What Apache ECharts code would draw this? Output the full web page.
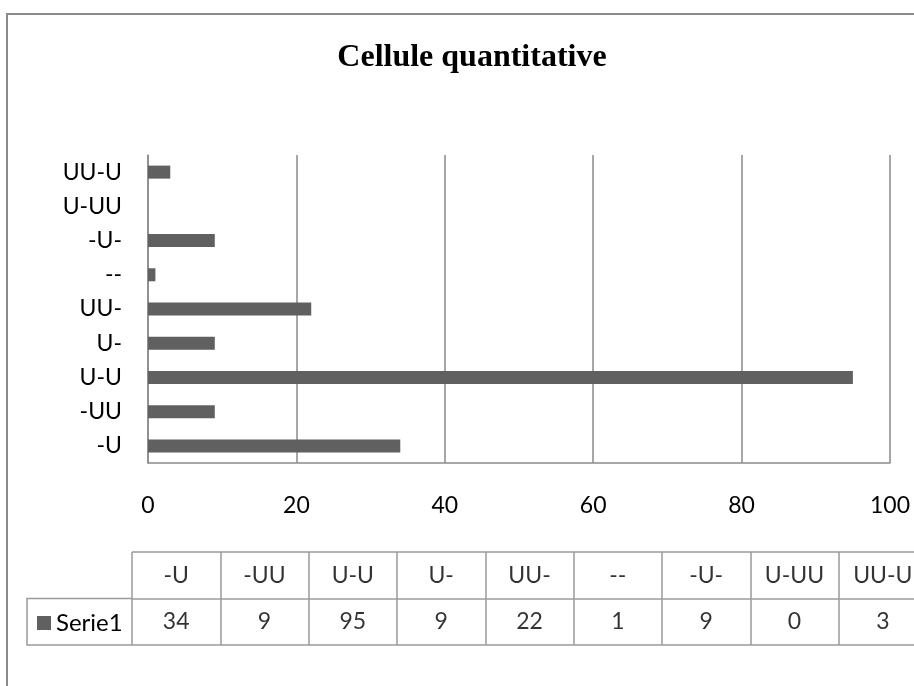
<!DOCTYPE html>
<html>
<head>
<meta charset="utf-8">
<title>Cellule quantitative</title>
<script src="https://cdn.jsdelivr.net/npm/echarts@6/dist/echarts.min.js"></script>
<style>
  html, body { margin: 0; padding: 0; background: #ffffff; }
  #chart { width: 914px; height: 686px; }
</style>
</head>
<body>
<div id="chart"></div>
<script>
// Chart content
const chartTitle = 'Cellule quantitative';
const seriesName = 'Serie1';
const categories = ['-U', '-UU', 'U-U', 'U-', 'UU-', '--', '-U-', 'U-UU', 'UU-U'];
const values = [34, 9, 95, 9, 22, 1, 9, 0, 3];
const valueTicks = { min: 0, max: 100, interval: 20 };
const tableRows = ['valeurs', 'catégories']; // bottom row, top row of the data table

const FONT = 'Lato, "Open Sans", sans-serif';
const LINE = '#8a8a8a';
const TABLE_LINE = '#9a9a9a';
const BAR = '#606060';

const chart = echarts.init(document.getElementById('chart'));

chart.setOption({
  animation: false,
  backgroundColor: '#ffffff',
  title: {
    text: chartTitle,
    left: 467,
    top: 35,
    textAlign: 'center',
    textStyle: {
      fontFamily: '"Liberation Serif", "Times New Roman", serif',
      fontWeight: 'bold',
      fontSize: 32,
      lineHeight: 36,
      color: '#000000'
    }
  },
  legend: {
    data: [{ name: seriesName, icon: 'rect' }],
    left: 37,
    top: 611,
    padding: 0,
    itemWidth: 14,
    itemHeight: 14,
    selectedMode: false,
    textStyle: { fontFamily: FONT, fontSize: 24, lineHeight: 23, color: '#000000' }
  },
  grid: [
    // bar plot
    { left: 148, right: 24, top: 155, bottom: 223, outerBoundsMode: 'none', containLabel: false },
    // data table under the plot (runs past the right edge)
    { left: 132, width: 795, top: 552, height: 93, outerBoundsMode: 'none', containLabel: false }
  ],
  xAxis: [
    {
      gridIndex: 0,
      type: 'value',
      min: valueTicks.min,
      max: valueTicks.max,
      interval: valueTicks.interval,
      axisLine: { show: true, lineStyle: { color: LINE, width: 1.5 } },
      axisTick: { show: false },
      splitLine: { show: true, lineStyle: { color: LINE, width: 1.5 } },
      axisLabel: { margin: 31, fontFamily: FONT, fontSize: 23, color: '#000000' }
    },
    {
      gridIndex: 1,
      type: 'category',
      data: categories,
      boundaryGap: true,
      axisLine: { show: false },
      axisTick: { show: false },
      axisLabel: { show: false },
      splitLine: { show: true, lineStyle: { color: TABLE_LINE, width: 1.5 } }
    }
  ],
  yAxis: [
    {
      gridIndex: 0,
      type: 'category',
      data: categories,
      boundaryGap: true,
      axisLine: { show: true, lineStyle: { color: LINE, width: 1.5 } },
      axisTick: { show: false },
      splitLine: { show: false },
      axisLabel: { margin: 26, fontFamily: FONT, fontSize: 23, color: '#000000' }
    },
    {
      gridIndex: 1,
      type: 'category',
      data: tableRows,
      boundaryGap: true,
      axisLine: { show: false },
      axisTick: { show: false },
      axisLabel: { show: false },
      splitLine: { show: true, lineStyle: { color: TABLE_LINE, width: 1.5 } }
    }
  ],
  graphic: [
    // outer chart frame
    {
      type: 'rect',
      shape: { x: 7, y: 14, width: 1200, height: 1000 },
      style: { fill: 'none', stroke: '#8a8a8a', lineWidth: 2 },
      silent: true
    },
    // legend cell of the data table
    {
      type: 'polyline',
      shape: { points: [[132, 598.5], [27, 598.5], [27, 645], [132, 645]] },
      style: { fill: 'none', stroke: TABLE_LINE, lineWidth: 1.5 },
      silent: true
    }
  ],
  series: [
    {
      name: seriesName,
      type: 'bar',
      xAxisIndex: 0,
      yAxisIndex: 0,
      data: values,
      barWidth: 13,
      itemStyle: { color: BAR }
    },
    {
      name: 'table-head',
      type: 'scatter',
      xAxisIndex: 1,
      yAxisIndex: 1,
      symbolSize: 1,
      itemStyle: { color: 'transparent' },
      data: categories.map(c => [c, tableRows[1]]),
      label: {
        show: true,
        position: 'inside',
        formatter: p => p.value[0],
        fontFamily: FONT,
        fontSize: 23,
        color: '#000000'
      },
      silent: true
    },
    {
      name: 'table-values',
      type: 'scatter',
      xAxisIndex: 1,
      yAxisIndex: 1,
      symbolSize: 1,
      itemStyle: { color: 'transparent' },
      data: values.map((v, i) => [categories[i], tableRows[0], v]),
      label: {
        show: true,
        position: 'inside',
        formatter: p => String(p.value[2]),
        fontFamily: FONT,
        fontSize: 23,
        color: '#000000'
      },
      silent: true
    }
  ]
});
</script>
</body>
</html>
